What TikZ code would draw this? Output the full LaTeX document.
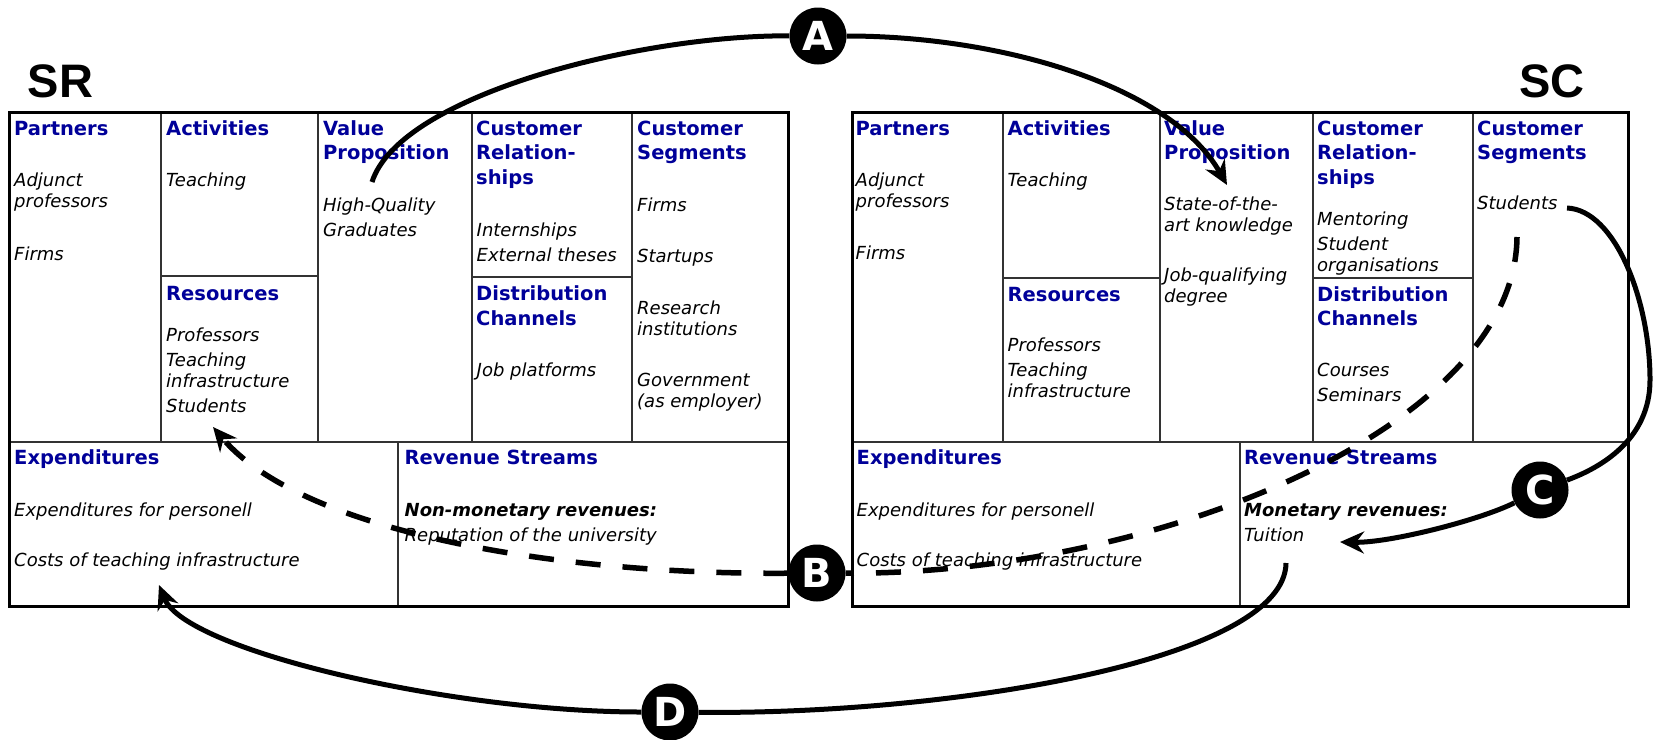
\documentclass[tikz,border=0pt]{standalone}
\usepackage{fontspec}
\setmainfont{DejaVu Sans}
\newfontfamily\titlefont{Liberation Sans}
\usetikzlibrary{arrows.meta}
\definecolor{headblue}{RGB}{0,0,153}

% multi-line nodes sit on the baseline of their last line
\tikzset{
  head/.style={anchor=base west, inner sep=0pt, align=left, text=headblue,
    font=\bfseries\fontsize{19.5}{24.5}\selectfont},
  entry/.style={anchor=base west, inner sep=0pt, align=left,
    font=\itshape\fontsize{18}{21}\selectfont},
  title/.style={anchor=base west, inner sep=0pt, font=\titlefont\bfseries\fontsize{47}{47}\selectfont},
  canvas/.style={line width=3pt},
  cell/.style={line width=1.2pt, black!80},
  badge/.style={circle, fill=black, text=white, minimum size=57pt, inner sep=0pt,
    font=\bfseries\fontsize{40}{40}\selectfont},
  flow/.style={line width=5pt},
  tip/.style={-{Stealth[length=24pt,width=22pt,inset=8pt]}},
  gone/.style={line width=5.5pt, dash pattern=on 25pt off 22pt}
}

\begin{document}
\begin{tikzpicture}[x=1pt,y=-1pt]
\useasboundingbox (0,0) rectangle (1653,739);

% ---- SR canvas ----
\draw[cell] (161,112) -- (161,442);
\draw[cell] (318,112) -- (318,442);
\draw[cell] (472,112) -- (472,442);
\draw[cell] (632,112) -- (632,442);
\draw[cell] (161,276) -- (318,276);
\draw[cell] (472,277) -- (632,277);
\draw[cell] (9,442) -- (788,442);
\draw[cell] (398,442) -- (398,606);
\draw[canvas] (9,112) rectangle (788,606);

\node[title] (sr) at (27.5,97) {SR};

\node[head] (sr-kp) at (14,135) {Partners};
\node[head] (sr-ka) at (166,135) {Activities};
\node[head] (sr-kr) at (166,300) {Resources};
\node[head] (sr-vp) at (323,159.5) {Value\\Proposition};
\node[head] (sr-cr) at (476,184) {Customer\\Relation-\\ships};
\node[head] (sr-ch) at (476,325) {Distribution\\Channels};
\node[head] (sr-cs) at (637,159.5) {Customer\\Segments};
\node[head] (sr-co) at (14,464) {Expenditures};
\node[head] (sr-rs) at (404.5,464) {Revenue Streams};

\node[entry] (sr-kp1) at (14,207.7) {Adjunct\\professors};
\node[entry] (sr-kp2) at (14,260) {Firms};
\node[entry] (sr-ka1) at (166,186.7) {Teaching};
\node[entry] (sr-kr1) at (166,412.7) {Professors\\[4pt]Teaching\\infrastructure\\[4pt]Students};
\node[entry] (sr-vp1) at (323,236.7) {High-Quality\\[4pt]Graduates};
\node[entry] (sr-cr1) at (476.5,261.7) {Internships\\[4pt]External theses};
\node[entry] (sr-ch1) at (476.5,376) {Job platforms};
\node[entry] (sr-cs1) at (637,211.7) {Firms};
\node[entry] (sr-cs2) at (637,262.7) {Startups};
\node[entry] (sr-cs3) at (637,335) {Research\\institutions};
\node[entry] (sr-cs4) at (637,407.7) {Government\\(as employer)};
\node[entry] (sr-co1) at (14,516) {Expenditures for personell};
\node[entry] (sr-co2) at (14,566.7) {Costs of teaching infrastructure};
\node[entry] (sr-rs1) at (404.5,541) {\textbf{Non-monetary revenues:}\\[4pt]Reputation of the university};

% ---- SC canvas ----
\draw[cell] (1003,112) -- (1003,442);
\draw[cell] (1160,112) -- (1160,442);
\draw[cell] (1313,112) -- (1313,442);
\draw[cell] (1473,112) -- (1473,442);
\draw[cell] (1003,278) -- (1160,278);
\draw[cell] (1313,278) -- (1473,278);
\draw[cell] (852.5,442) -- (1628,442);
\draw[cell] (1240,442) -- (1240,606);
\draw[canvas] (852.5,112) rectangle (1628,606);

\node[title] (sc) at (1519,97) {SC};

\node[head] (sc-kp) at (855.5,135) {Partners};
\node[head] (sc-ka) at (1007.5,135) {Activities};
\node[head] (sc-kr) at (1007.5,301) {Resources};
\node[head] (sc-vp) at (1164,159.5) {Value\\Proposition};
\node[head] (sc-cr) at (1317,184) {Customer\\Relation-\\ships};
\node[head] (sc-ch) at (1317,325.5) {Distribution\\Channels};
\node[head] (sc-cs) at (1477,159.5) {Customer\\Segments};
\node[head] (sc-co) at (856.5,464) {Expenditures};
\node[head] (sc-rs) at (1244,464) {Revenue Streams};

\node[entry] (sc-kp1) at (855.5,207.7) {Adjunct\\professors};
\node[entry] (sc-kp2) at (855.5,259.3) {Firms};
\node[entry] (sc-ka1) at (1007.5,186.7) {Teaching};
\node[entry] (sc-kr1) at (1007.5,397.7) {Professors\\[4pt]Teaching\\infrastructure};
\node[entry] (sc-vp1) at (1164,231) {State-of-the-\\art knowledge};
\node[entry] (sc-vp2) at (1164,302.7) {Job-qualifying\\degree};
\node[entry] (sc-cr1) at (1317,271) {Mentoring\\[4pt]Student\\organisations};
\node[entry] (sc-ch1) at (1317,401.7) {Courses\\[4pt]Seminars};
\node[entry] (sc-cs1) at (1477,209.3) {Students};
\node[entry] (sc-co1) at (856.5,516) {Expenditures for personell};
\node[entry] (sc-co2) at (856.5,566.7) {Costs of teaching infrastructure};
\node[entry] (sc-rs1) at (1244,541) {\textbf{Monetary revenues:}\\[4pt]Tuition};

% ---- flows between the two canvases ----
\node[badge] (A) at (818,36) {A};
\node[badge] (B) at (817,573) {B};
\node[badge] (C) at (1540,490) {C};
\node[badge] (D) at (670,712) {D};

\coordinate (a-from) at (372,182);
\coordinate (a-to) at (1227,185);
\coordinate (b-from) at (1517,237);
\coordinate (b-to) at (213,427);
\coordinate (c-from) at (1567,208);
\coordinate (c-bend) at (1650,380);
\coordinate (c-to) at (1340,542);
\coordinate (d-from) at (1286,563);
\coordinate (d-to) at (159,585);

% A: graduates go to the students' side
\draw[flow] (a-from) .. controls (400,95) and (640,35) .. (A);
\draw[flow,tip] (A) .. controls (1000,36) and (1170,85) .. (a-to);

% B: students come back (dashed)
\draw[gone] (b-from) .. controls (1515,430) and (1150,575) .. (B);
\draw[gone,tip] (B) .. controls (550,575) and (300,530) .. (b-to);

% C: students pay tuition
\draw[flow] (c-from) .. controls (1615,210) and (1650,300) .. (c-bend)
  .. controls (1650,440) and (1600,468) .. (C);
\draw[flow,tip] (C) .. controls (1480,520) and (1390,543) .. (c-to);

% D: tuition covers the costs
\draw[flow] (d-from) .. controls (1285,660) and (950,715) .. (D);
\draw[flow,tip] (D) .. controls (450,712) and (185,650) .. (d-to);

\end{tikzpicture}
\end{document}
